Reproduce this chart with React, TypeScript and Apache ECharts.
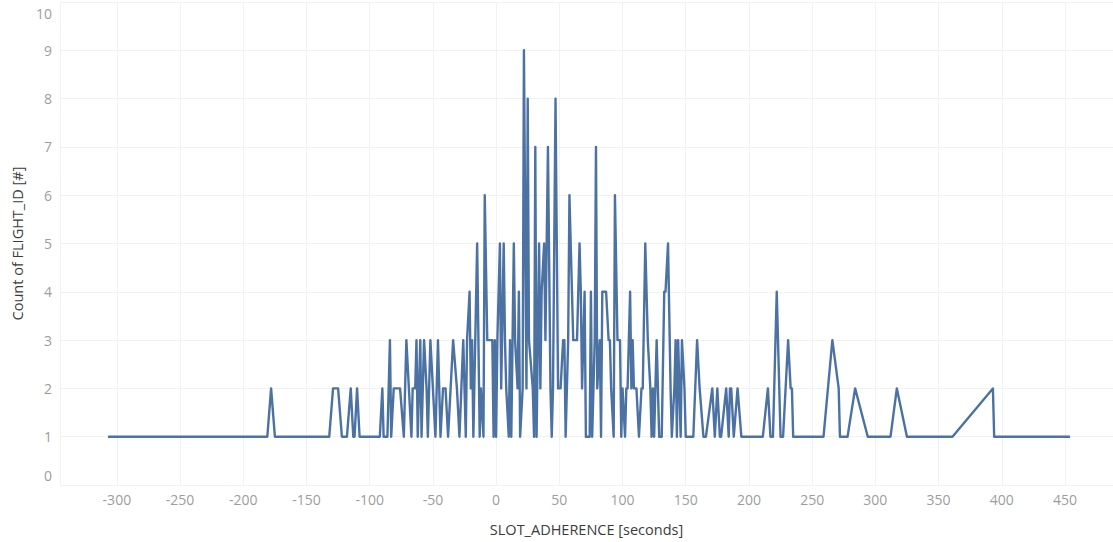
import React, { useEffect, useRef } from "react";
import * as echarts from "echarts";

// Slot adherence (seconds) and number of flights recorded at each value
const slotAdherenceSeconds: number[] = [
  -307, -181, -178, -175, -132, -129, -125, -122, -118, -115, -113, -112, -110, -108,
  -92, -90, -89, -86, -84, -83, -81, -76, -73, -71, -69, -67, -66, -64, -63, -62,
  -60, -59, -57, -55, -54, -52, -50, -48, -46, -44, -42, -40, -38, -36, -34, -31,
  -29, -26, -24, -23, -21, -20, -19, -18, -15, -13, -12, -10, -9, -7, -3, -2,
  -1, 0, 1, 3, 4, 6, 7, 8, 10, 11, 12, 14, 15, 17, 18, 19,
  21, 22, 24, 25, 26, 29, 30, 31, 32, 34, 35, 36, 38, 39, 41, 43,
  44, 45, 47, 49, 51, 53, 54, 55, 57, 58, 60, 61, 64, 66, 67, 68,
  70, 71, 74, 75, 76, 78, 79, 80, 82, 83, 84, 87, 89, 90, 91, 93,
  94, 96, 98, 99, 100, 102, 103, 104, 106, 107, 108, 109, 111, 113, 115, 116,
  118, 120, 122, 123, 124, 125, 127, 129, 131, 133, 134, 136, 138, 139, 141, 142,
  143, 144, 146, 147, 149, 150, 156, 159, 161, 164, 166, 171, 173, 175, 177, 178,
  182, 184, 185, 186, 188, 191, 194, 211, 215, 217, 219, 222, 225, 227, 231, 233,
  234, 235, 259, 266, 271, 272, 278, 284, 294, 312, 317, 325, 361, 393, 394, 454,
];

const flightCounts: number[] = [
  1, 1, 2, 1, 1, 2, 2, 1, 1, 2, 1, 1, 2, 1,
  1, 2, 1, 1, 3, 1, 2, 2, 1, 3, 2, 1, 2, 2, 3, 1,
  3, 1, 3, 2, 1, 3, 2, 1, 3, 1, 2, 2, 1, 2, 3, 2,
  1, 3, 1, 3, 4, 2, 3, 1, 5, 1, 2, 1, 6, 3, 3, 1,
  3, 1, 3, 5, 2, 5, 3, 2, 1, 3, 1, 5, 3, 2, 4, 1,
  2, 9, 2, 8, 3, 2, 1, 7, 1, 5, 2, 4, 5, 3, 7, 2,
  1, 2, 8, 2, 2, 3, 3, 1, 3, 6, 4, 3, 3, 5, 4, 2,
  4, 1, 1, 4, 1, 3, 7, 2, 3, 1, 4, 4, 3, 3, 2, 1,
  6, 3, 3, 1, 2, 1, 2, 2, 4, 2, 3, 2, 2, 1, 2, 2,
  5, 3, 2, 1, 2, 1, 3, 1, 1, 4, 4, 5, 2, 1, 2, 3,
  1, 3, 1, 3, 2, 1, 1, 3, 2, 1, 1, 2, 1, 2, 1, 1,
  2, 1, 2, 2, 1, 2, 1, 1, 2, 1, 1, 4, 1, 1, 3, 2,
  2, 1, 1, 3, 2, 1, 1, 2, 1, 1, 2, 1, 1, 2, 1, 1,
];

const xAxisTitle = "SLOT_ADHERENCE [seconds]";
const yAxisTitle = "Count of FLIGHT_ID [#]";

const FONT = "'Open Sans', 'Noto Sans', sans-serif";
const LABEL_COLOR = "#9d9d9d";

export default function App() {
  const ref = useRef<HTMLDivElement>(null);

  useEffect(() => {
    if (!ref.current) return;
    const chart = echarts.init(ref.current, undefined, { renderer: "svg" });
    const points = slotAdherenceSeconds.map((s, i) => [s, flightCounts[i]]);
    const edgeLabel = { color: LABEL_COLOR, fontSize: 14, fontFamily: FONT };

    chart.setOption({
      animation: false,
      backgroundColor: "#ffffff",
      grid: { left: 60, right: 0, top: 2, bottom: 57 },
      xAxis: {
        type: "value",
        min: -345,
        max: 488,
        splitNumber: 16,
        name: xAxisTitle,
        nameLocation: "middle",
        nameGap: 37,
        nameTextStyle: { color: "#3c3c3c", fontSize: 14.5, fontFamily: FONT },
        axisLine: { show: false },
        axisTick: { show: false },
        axisLabel: {
          showMinLabel: false,
          showMaxLabel: false,
          color: LABEL_COLOR,
          fontSize: 14,
          fontFamily: FONT,
          margin: 7,
        },
        splitLine: { show: true, lineStyle: { color: "#f2f2f2", width: 1 } },
      },
      yAxis: {
        type: "value",
        min: 0,
        max: 10,
        interval: 1,
        name: yAxisTitle,
        nameLocation: "middle",
        nameGap: 34,
        nameTextStyle: { color: "#3c3c3c", fontSize: 14.5, fontFamily: FONT },
        axisLine: { show: false },
        axisTick: { show: false },
        axisLabel: {
          color: LABEL_COLOR,
          fontSize: 14,
          fontFamily: FONT,
          margin: 8,
          verticalAlignMaxLabel: "top",
          verticalAlignMinLabel: "bottom",
          // keep the end labels inside the plot's height
          formatter: (v: number) =>
            v === 10 ? `{top|${v}}` : v === 0 ? `{bot|${v}}` : `${v}`,
          rich: {
            top: { ...edgeLabel, padding: [4, 0, 0, 0] },
            bot: { ...edgeLabel, padding: [0, 0, 3, 0] },
          },
        },
        splitLine: { show: true, lineStyle: { color: "#f2f2f2", width: 1 } },
      },
      series: [
        {
          type: "line",
          data: points,
          showSymbol: false,
          lineStyle: { color: "#4b72a3", width: 2.4, join: "round" },
          itemStyle: { color: "#4b72a3" },
        },
      ],
    });

    return () => chart.dispose();
  }, []);

  return (
    <div
      ref={ref}
      style={{ position: "fixed", left: 0, top: 0, width: 1113, height: 542, background: "#fff" }}
    />
  );
}
